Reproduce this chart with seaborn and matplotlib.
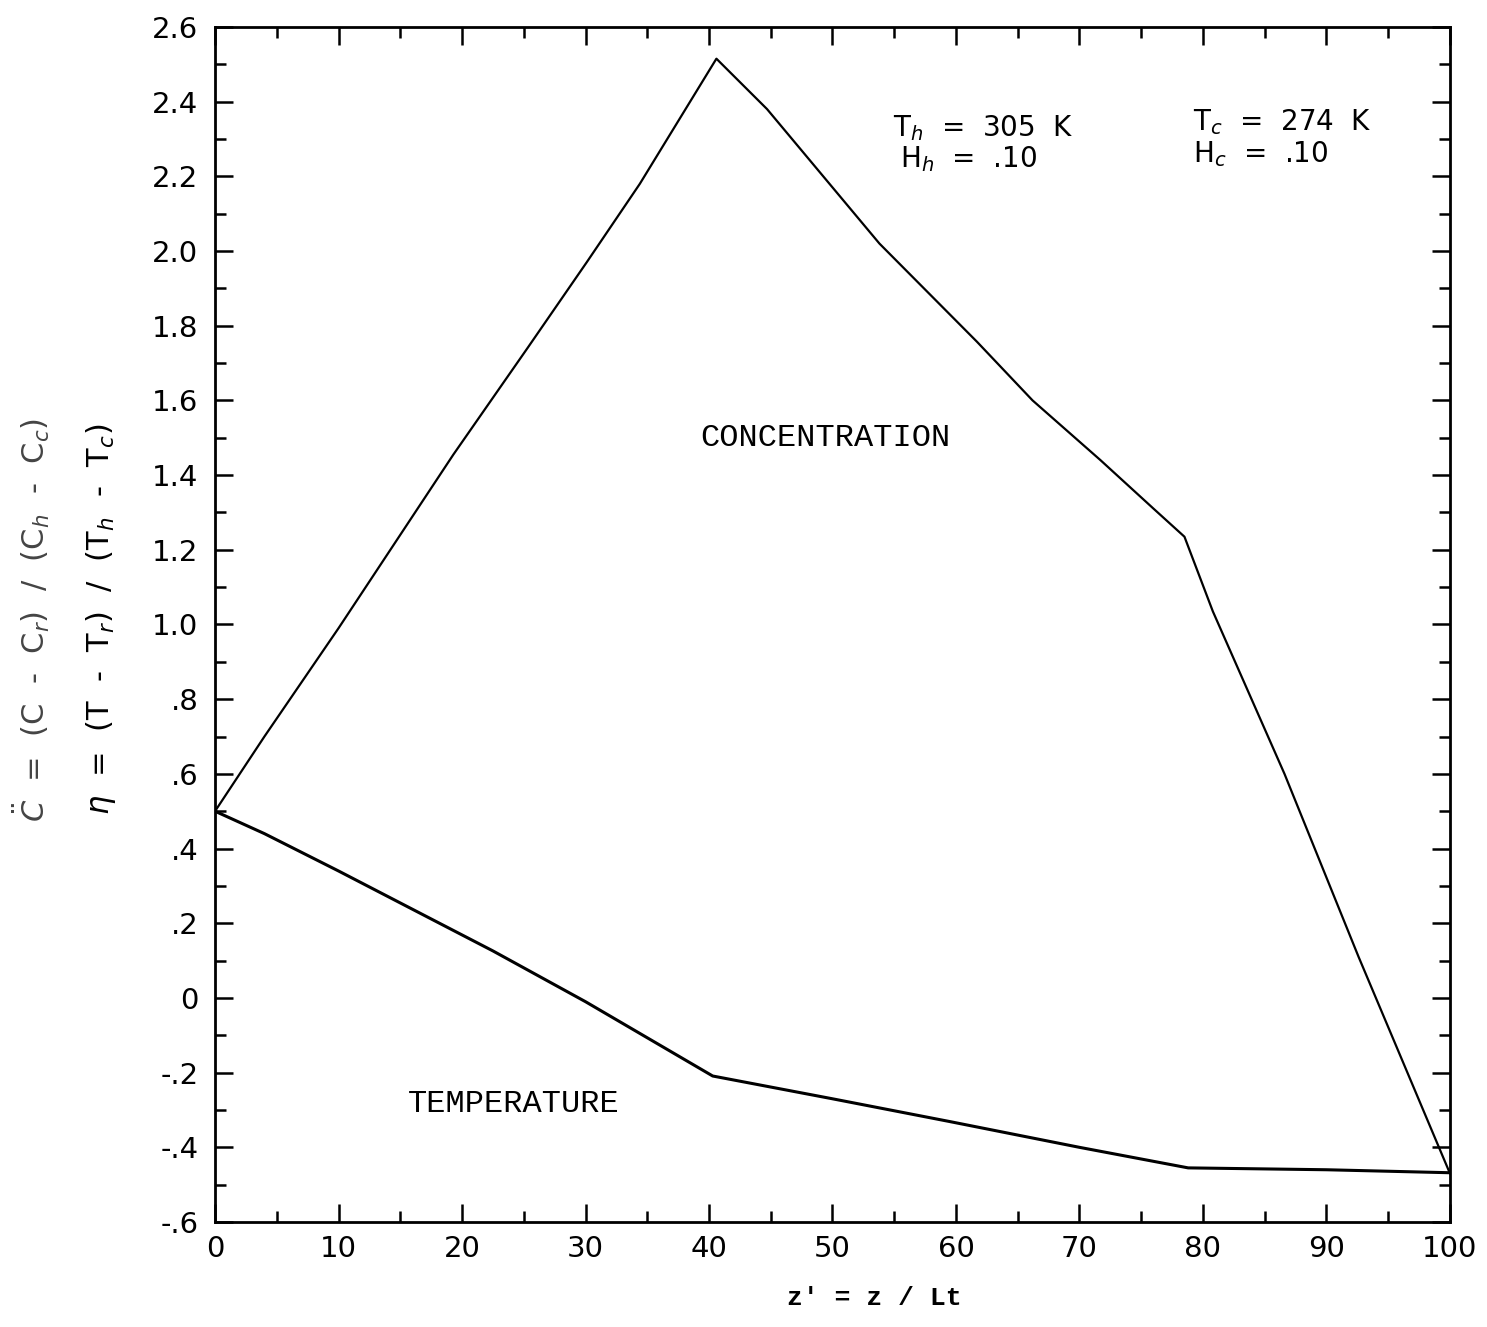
import numpy as np
import pandas as pd
import matplotlib
matplotlib.use("Agg")
import matplotlib.pyplot as plt
import seaborn as sns
from matplotlib.ticker import MultipleLocator, FixedLocator, FixedFormatter

# ---- data ----
conc_x = [0.0, 4.0, 10.0, 19.3, 25.3, 30.1, 34.4, 40.6, 44.7, 53.8, 61.7, 66.2, 71.7, 76.0, 78.5, 80.8, 86.6, 92.6, 100.0]
conc_y = [0.50, 0.70, 0.99, 1.455, 1.74, 1.97, 2.18, 2.515, 2.38, 2.02, 1.757, 1.60, 1.44, 1.31, 1.235, 1.035, 0.60, 0.11, -0.47]

temp_x = [0.0, 4.0, 10.0, 22.5, 30.0, 40.3, 50.0, 59.5, 70.0, 78.8, 90.0, 100.0]
temp_y = [0.50, 0.44, 0.34, 0.126, -0.01, -0.209, -0.27, -0.331, -0.40, -0.455, -0.46, -0.468]

y_ticks = [-0.6, -0.4, -0.2, 0.0, 0.2, 0.4, 0.6, 0.8, 1.0, 1.2, 1.4, 1.6, 1.8, 2.0, 2.2, 2.4, 2.6]
y_tick_labels = ["-.6", "-.4", "-.2", "0", ".2", ".4", ".6", ".8", "1.0", "1.2", "1.4",
                 "1.6", "1.8", "2.0", "2.2", "2.4", "2.6"]
x_ticks = [0, 10, 20, 30, 40, 50, 60, 70, 80, 90, 100]
x_tick_labels = ["0", "10", "20", "30", "40", "50", "60", "70", "80", "90", "100"]

df = pd.concat([
    pd.DataFrame({"z": conc_x, "v": conc_y, "series": "CONCENTRATION"}),
    pd.DataFrame({"z": temp_x, "v": temp_y, "series": "TEMPERATURE"}),
], ignore_index=True)

sns.set_theme(style="ticks")
plt.rcParams["font.family"] = ["DejaVu Sans"]
plt.rcParams["mathtext.fontset"] = "dejavusans"
plt.rcParams["text.color"] = "black"
plt.rcParams["xtick.color"] = "black"
plt.rcParams["ytick.color"] = "black"

fig = plt.figure(figsize=(14.87, 13.27), dpi=100)
ax = fig.add_axes([0.1446, 0.0791, 0.9751 - 0.1446, 0.9797 - 0.0791])

sns.lineplot(data=df[df.series == "CONCENTRATION"], x="z", y="v", ax=ax,
             color="black", linewidth=1.6, sort=False, estimator=None)
sns.lineplot(data=df[df.series == "TEMPERATURE"], x="z", y="v", ax=ax,
             color="black", linewidth=2.2, sort=False, estimator=None)

ax.set_xlim(0, 100)
ax.set_ylim(-0.6, 2.6)

ax.xaxis.set_major_locator(FixedLocator(x_ticks))
ax.xaxis.set_major_formatter(FixedFormatter(x_tick_labels))
ax.xaxis.set_minor_locator(MultipleLocator(5))
ax.yaxis.set_major_locator(FixedLocator(y_ticks))
ax.yaxis.set_major_formatter(FixedFormatter(y_tick_labels))
ax.yaxis.set_minor_locator(MultipleLocator(0.1))

ax.tick_params(axis="both", which="both", direction="in", top=True, right=True,
               color="black", width=1.8, labelcolor="black")
ax.tick_params(axis="both", which="major", length=13, labelsize=21)
ax.tick_params(axis="both", which="minor", length=8)
ax.tick_params(axis="y", which="major", pad=12)
ax.tick_params(axis="x", which="major", pad=9)

for s in ax.spines.values():
    s.set_linewidth(2.0)
    s.set_color("black")

ax.set_xlabel("")
ax.set_ylabel("")

# annotations
ax.text(39.3, 1.5, "CONCENTRATION", fontsize=23, family="Liberation Mono",
        ha="left", va="center", color="black")
ax.text(15.6, -0.283, "TEMPERATURE", fontsize=23, family="Liberation Mono",
        ha="left", va="center", color="black")

ax.text(54.9, 2.33, r"T$_{h}$  =  305  K", fontsize=20, ha="left", va="center")
ax.text(55.5, 2.245, r"H$_{h}$  =  .10", fontsize=20, ha="left", va="center")
ax.text(79.2, 2.345, r"T$_{c}$  =  274  K", fontsize=20, ha="left", va="center")
ax.text(79.2, 2.26, r"H$_{c}$  =  .10", fontsize=20, ha="left", va="center")

# axis labels
fig.text(0.588, 0.013, "z' = z / Lt", fontsize=19, family="Liberation Mono",
         weight="bold", ha="center", va="bottom")
fig.text(0.021, 0.533, r"$\ddot{C}$  =  (C  -  C$_r$)  /  (C$_h$  -  C$_c$)",
         fontsize=22, rotation=90, ha="center", va="center", color="#444444")
fig.text(0.068, 0.533, r"$\eta$  =  (T  -  T$_r$)  /  (T$_h$  -  T$_c$)",
         fontsize=22, rotation=90, ha="center", va="center", color="black")

fig.savefig("out.png", dpi=100, facecolor="white")
